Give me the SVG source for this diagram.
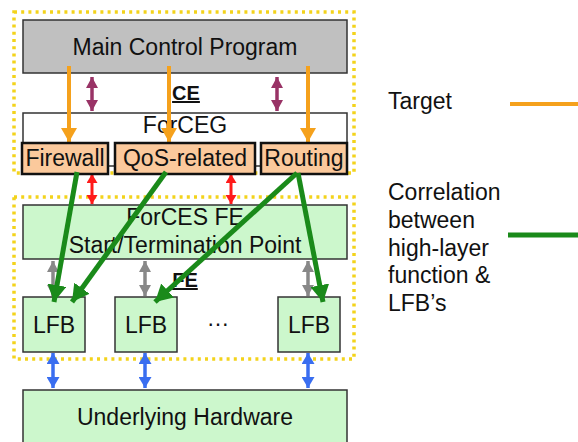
<svg xmlns="http://www.w3.org/2000/svg" width="578" height="442" viewBox="0 0 578 442">
<defs>
<style>
text{font-family:"Liberation Sans",Arial,sans-serif;fill:#111;}
.t{font-size:23px;text-anchor:middle;}
.lg{font-size:23px;}
.lbl{font-size:20px;font-weight:bold;text-anchor:middle;text-decoration:underline;}
.dot{fill:none;stroke:#f3d31c;stroke-width:3.5;stroke-dasharray:3 4.2;}
.gray{fill:#c0c0c0;stroke:#333;stroke-width:1.5;}
.white{fill:#fff;stroke:#333;stroke-width:1.5;}
.peach{fill:#fbc99c;stroke:#111;stroke-width:2.5;}
.green{fill:#ccf7cc;stroke:#333;stroke-width:1.5;}
.or{stroke:#f5a11c;stroke-width:4;fill:none;}
.pu{stroke:#993366;stroke-width:3.5;fill:none;}
.rd{stroke:#ff1a1a;stroke-width:3;fill:none;}
.gy{stroke:#888;stroke-width:3.5;fill:none;}
.bl{stroke:#3a6ef0;stroke-width:3.5;fill:none;}
.gr{stroke:#1a8a1a;stroke-width:5;fill:none;}
</style>
<marker id="mOr" markerUnits="userSpaceOnUse" markerWidth="14" markerHeight="16" viewBox="0 0 14 16" refX="14" refY="8" orient="auto"><path d="M0,0 L14,8 L0,16 Z" fill="#f5a11c"/></marker>
<marker id="mPu" markerUnits="userSpaceOnUse" markerWidth="11" markerHeight="12" viewBox="0 0 11 12" refX="11" refY="6" orient="auto-start-reverse"><path d="M0,0 L11,6 L0,12 Z" fill="#993366"/></marker>
<marker id="mRd" markerUnits="userSpaceOnUse" markerWidth="9" markerHeight="11" viewBox="0 0 9 11" refX="9" refY="5.5" orient="auto-start-reverse"><path d="M0,0 L9,5.5 L0,11 Z" fill="#ff1a1a"/></marker>
<marker id="mGy" markerUnits="userSpaceOnUse" markerWidth="11" markerHeight="12" viewBox="0 0 11 12" refX="11" refY="6" orient="auto-start-reverse"><path d="M0,0 L11,6 L0,12 Z" fill="#888"/></marker>
<marker id="mBl" markerUnits="userSpaceOnUse" markerWidth="11" markerHeight="13" viewBox="0 0 11 13" refX="11" refY="6.5" orient="auto-start-reverse"><path d="M0,0 L11,6.5 L0,13 Z" fill="#3a6ef0"/></marker>
<marker id="mGr" markerUnits="userSpaceOnUse" markerWidth="17" markerHeight="19" viewBox="0 0 17 19" refX="17" refY="9.5" orient="auto"><path d="M0,0 L17,9.5 L0,19 Z" fill="#1a8a1a"/></marker>
</defs>
<rect width="578" height="442" fill="#fff"/>

<g id="ce-region"><rect class="dot" x="14" y="12" width="340" height="161"/><text class="lbl" x="186" y="100">CE</text></g>
<g id="fe-region"><rect class="dot" x="14" y="197" width="340" height="162"/><text class="lbl" x="185" y="287">FE</text></g>

<g id="main-control"><rect class="gray" x="23" y="20" width="324" height="53"/><text class="t" x="185" y="55">Main Control Program</text></g>
<g id="forceg"><rect class="white" x="23" y="113" width="324" height="53"/><text class="t" x="185" y="133">ForCEG</text></g>
<g id="forces-fe"><rect class="green" x="23" y="205" width="324" height="54"/><text class="t" x="185" y="225">ForCES FE</text><text class="t" x="185" y="253">Start/Termination Point</text></g>
<g id="hardware"><rect class="green" x="23" y="390" width="324" height="60"/><text class="t" x="185" y="425">Underlying Hardware</text></g>
<g id="lfb1"><rect class="green" x="23" y="297" width="62" height="55"/><text class="t" x="54" y="333">LFB</text></g>
<g id="lfb2"><rect class="green" x="115" y="297" width="62" height="55"/><text class="t" x="146" y="333">LFB</text></g>
<g id="lfb3"><rect class="green" x="278" y="297" width="62" height="55"/><text class="t" x="309" y="333">LFB</text></g>
<g id="ellipsis"><text class="t" x="218" y="326">…</text></g>

<g id="connectors">
<path class="or" d="M69,66 V142" marker-end="url(#mOr)"/>
<path class="or" d="M169,66 V142" marker-end="url(#mOr)"/>
<path class="or" d="M308,66 V142" marker-end="url(#mOr)"/>
<path class="pu" d="M92,77 V111" marker-start="url(#mPu)" marker-end="url(#mPu)"/>
<path class="pu" d="M277,77 V111" marker-start="url(#mPu)" marker-end="url(#mPu)"/>
<path class="rd" d="M92,174 V204" marker-start="url(#mRd)" marker-end="url(#mRd)"/>
<path class="rd" d="M231,174 V204" marker-start="url(#mRd)" marker-end="url(#mRd)"/>
<path class="gy" d="M53,261 V296" marker-start="url(#mGy)" marker-end="url(#mGy)"/>
<path class="gy" d="M145,261 V296" marker-start="url(#mGy)" marker-end="url(#mGy)"/>
<path class="gy" d="M308,261 V296" marker-start="url(#mGy)" marker-end="url(#mGy)"/>
<path class="bl" d="M53,353 V388" marker-start="url(#mBl)" marker-end="url(#mBl)"/>
<path class="bl" d="M145,353 V388" marker-start="url(#mBl)" marker-end="url(#mBl)"/>
<path class="bl" d="M308,353 V388" marker-start="url(#mBl)" marker-end="url(#mBl)"/>
</g>

<g id="firewall"><rect class="peach" x="22" y="143" width="86" height="31"/><text class="t" x="65" y="166">Firewall</text></g>
<g id="qos"><rect class="peach" x="115" y="143" width="140" height="31"/><text class="t" x="185" y="166">QoS-related</text></g>
<g id="routing"><rect class="peach" x="261" y="143" width="86" height="31"/><text class="t" x="304" y="166">Routing</text></g>

<g id="correlations">
<path class="gr" d="M77,172 L54,302" marker-end="url(#mGr)"/>
<path class="gr" d="M166,172 L72,302" marker-end="url(#mGr)"/>
<path class="gr" d="M297,173 L155,302" marker-end="url(#mGr)"/>
<path class="gr" d="M298,173 L323,302" marker-end="url(#mGr)"/>
</g>

<g id="legend">
<text class="lg" x="388" y="109">Target</text>
<line class="or" x1="510" y1="104" x2="578" y2="104"/>
<text class="lg" x="388" y="200">Correlation</text>
<text class="lg" x="388" y="228">between</text>
<text class="lg" x="388" y="256">high-layer</text>
<text class="lg" x="388" y="283">function &amp;</text>
<text class="lg" x="388" y="311">LFB’s</text>
<line class="gr" x1="508" y1="235" x2="578" y2="235"/>
</g>
</svg>
